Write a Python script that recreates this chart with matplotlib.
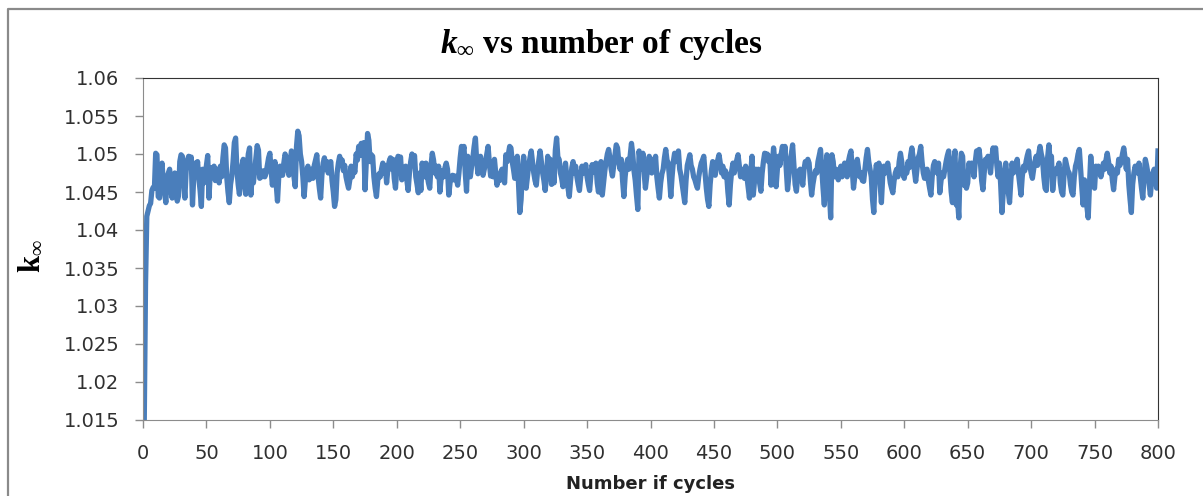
import numpy as np
import matplotlib
matplotlib.use('Agg')
import matplotlib.pyplot as plt
from matplotlib.lines import Line2D
from matplotlib.ticker import FuncFormatter

# k-infinity per cycle (cycles 1..800)
k_inf = [
    1.0150, 1.0330, 1.0418, 1.0425, 1.0432, 1.0435, 1.0452, 1.0456, 1.0455, 1.0501,
    1.0499, 1.0444, 1.0442, 1.0478, 1.0488, 1.0462, 1.0450, 1.0436, 1.0470, 1.0475,
    1.0480, 1.0452, 1.0442, 1.0468, 1.0475, 1.0455, 1.0438, 1.0445, 1.0490, 1.0499,
    1.0497, 1.0465, 1.0442, 1.0478, 1.0492, 1.0497, 1.0485, 1.0496, 1.0433, 1.0470,
    1.0488, 1.0475, 1.0490, 1.0468, 1.0452, 1.0431, 1.0480, 1.0462, 1.0470, 1.0485,
    1.0498, 1.0442, 1.0475, 1.0482, 1.0470, 1.0484, 1.0465, 1.0480, 1.0472, 1.0462,
    1.0484, 1.0470, 1.0495, 1.0512, 1.0508, 1.0470, 1.0450, 1.0436, 1.0460, 1.0471,
    1.0490, 1.0515, 1.0521, 1.0480, 1.0460, 1.0447, 1.0470, 1.0485, 1.0493, 1.0462,
    1.0447, 1.0480, 1.0500, 1.0508, 1.0446, 1.0470, 1.0462, 1.0478, 1.0495, 1.0511,
    1.0505, 1.0468, 1.0476, 1.0470, 1.0478, 1.0470, 1.0475, 1.0485, 1.0495, 1.0501,
    1.0478, 1.0459, 1.0480, 1.0490, 1.0460, 1.0438, 1.0470, 1.0484, 1.0478, 1.0472,
    1.0488, 1.0500, 1.0495, 1.0480, 1.0472, 1.0490, 1.0504, 1.0498, 1.0470, 1.0457,
    1.0510, 1.0530, 1.0524, 1.0500, 1.0490, 1.0470, 1.0444, 1.0466, 1.0478, 1.0484,
    1.0466, 1.0475, 1.0480, 1.0468, 1.0485, 1.0492, 1.0499, 1.0470, 1.0455, 1.0442,
    1.0472, 1.0488, 1.0495, 1.0480, 1.0490, 1.0475, 1.0486, 1.0490, 1.0465, 1.0450,
    1.0431, 1.0440, 1.0475, 1.0488, 1.0497, 1.0485, 1.0492, 1.0478, 1.0485, 1.0470,
    1.0462, 1.0455, 1.0466, 1.0484, 1.0470, 1.0482, 1.0476, 1.0500, 1.0492, 1.0510,
    1.0498, 1.0514, 1.0505, 1.0515, 1.0453, 1.0490, 1.0527, 1.0518, 1.0490, 1.0499,
    1.0497, 1.0470, 1.0455, 1.0444, 1.0465, 1.0474, 1.0470, 1.0480, 1.0488, 1.0475,
    1.0485, 1.0462, 1.0480, 1.0490, 1.0495, 1.0480, 1.0493, 1.0468, 1.0455, 1.0480,
    1.0497, 1.0490, 1.0496, 1.0466, 1.0475, 1.0470, 1.0484, 1.0465, 1.0452, 1.0475,
    1.0490, 1.0500, 1.0488, 1.0498, 1.0470, 1.0460, 1.0449, 1.0475, 1.0452, 1.0488,
    1.0478, 1.0470, 1.0488, 1.0472, 1.0462, 1.0455, 1.0485, 1.0501, 1.0492, 1.0475,
    1.0484, 1.0470, 1.0484, 1.0450, 1.0468, 1.0478, 1.0470, 1.0482, 1.0488, 1.0480,
    1.0446, 1.0462, 1.0470, 1.0472, 1.0466, 1.0471, 1.0468, 1.0459, 1.0475, 1.0495,
    1.0510, 1.0502, 1.0510, 1.0475, 1.0451, 1.0497, 1.0480, 1.0470, 1.0484, 1.0495,
    1.0510, 1.0521, 1.0490, 1.0474, 1.0485, 1.0497, 1.0485, 1.0472, 1.0480, 1.0490,
    1.0500, 1.0510, 1.0488, 1.0471, 1.0480, 1.0470, 1.0493, 1.0475, 1.0459, 1.0470,
    1.0465, 1.0476, 1.0480, 1.0470, 1.0462, 1.0499, 1.0490, 1.0500, 1.0510, 1.0508,
    1.0490, 1.0480, 1.0468, 1.0480, 1.0497, 1.0460, 1.0423, 1.0440, 1.0478, 1.0497,
    1.0480, 1.0455, 1.0470, 1.0485, 1.0495, 1.0504, 1.0490, 1.0475, 1.0465, 1.0459,
    1.0478, 1.0492, 1.0504, 1.0490, 1.0475, 1.0465, 1.0452, 1.0470, 1.0497, 1.0470,
    1.0493, 1.0460, 1.0480, 1.0462, 1.0505, 1.0521, 1.0495, 1.0493, 1.0475, 1.0468,
    1.0457, 1.0475, 1.0488, 1.0470, 1.0455, 1.0444, 1.0465, 1.0482, 1.0490, 1.0475,
    1.0484, 1.0470, 1.0460, 1.0452, 1.0470, 1.0484, 1.0475, 1.0480, 1.0486, 1.0470,
    1.0460, 1.0452, 1.0472, 1.0486, 1.0476, 1.0482, 1.0488, 1.0462, 1.0450, 1.0475,
    1.0490, 1.0446, 1.0462, 1.0478, 1.0490, 1.0500, 1.0506, 1.0495, 1.0480, 1.0471,
    1.0485, 1.0500, 1.0512, 1.0508, 1.0490, 1.0480, 1.0493, 1.0465, 1.0444, 1.0470,
    1.0485, 1.0493, 1.0480, 1.0498, 1.0514, 1.0500, 1.0478, 1.0465, 1.0445, 1.0427,
    1.0504, 1.0490, 1.0480, 1.0501, 1.0475, 1.0455, 1.0470, 1.0485, 1.0497, 1.0480,
    1.0475, 1.0493, 1.0482, 1.0497, 1.0470, 1.0455, 1.0442, 1.0462, 1.0474, 1.0480,
    1.0495, 1.0506, 1.0492, 1.0488, 1.0468, 1.0444, 1.0470, 1.0490, 1.0501, 1.0490,
    1.0495, 1.0504, 1.0480, 1.0472, 1.0460, 1.0448, 1.0436, 1.0465, 1.0485, 1.0492,
    1.0499, 1.0485, 1.0480, 1.0470, 1.0466, 1.0460, 1.0455, 1.0470, 1.0480, 1.0488,
    1.0492, 1.0497, 1.0475, 1.0455, 1.0440, 1.0431, 1.0460, 1.0478, 1.0490, 1.0480,
    1.0472, 1.0486, 1.0492, 1.0499, 1.0488, 1.0475, 1.0484, 1.0470, 1.0478, 1.0474,
    1.0450, 1.0433, 1.0460, 1.0478, 1.0488, 1.0475, 1.0485, 1.0492, 1.0499, 1.0485,
    1.0470, 1.0480, 1.0475, 1.0468, 1.0484, 1.0470, 1.0455, 1.0442, 1.0475, 1.0497,
    1.0446, 1.0465, 1.0480, 1.0470, 1.0480, 1.0462, 1.0451, 1.0475, 1.0490, 1.0501,
    1.0495, 1.0500, 1.0490, 1.0497, 1.0459, 1.0485, 1.0508, 1.0490, 1.0457, 1.0480,
    1.0497, 1.0485, 1.0500, 1.0510, 1.0495, 1.0510, 1.0480, 1.0453, 1.0470, 1.0490,
    1.0500, 1.0512, 1.0485, 1.0460, 1.0451, 1.0470, 1.0478, 1.0480, 1.0470, 1.0459,
    1.0480, 1.0490, 1.0486, 1.0493, 1.0488, 1.0465, 1.0446, 1.0460, 1.0470, 1.0478,
    1.0475, 1.0490, 1.0498, 1.0506, 1.0480, 1.0455, 1.0433, 1.0470, 1.0499, 1.0485,
    1.0450, 1.0416, 1.0499, 1.0490, 1.0470, 1.0480, 1.0475, 1.0466, 1.0478, 1.0484,
    1.0470, 1.0480, 1.0488, 1.0485, 1.0470, 1.0490, 1.0498, 1.0504, 1.0480, 1.0455,
    1.0470, 1.0485, 1.0493, 1.0480, 1.0470, 1.0475, 1.0465, 1.0464, 1.0480, 1.0495,
    1.0506, 1.0490, 1.0480, 1.0470, 1.0440, 1.0423, 1.0470, 1.0486, 1.0475, 1.0488,
    1.0460, 1.0436, 1.0470, 1.0484, 1.0475, 1.0482, 1.0488, 1.0475, 1.0462, 1.0455,
    1.0449, 1.0465, 1.0475, 1.0480, 1.0470, 1.0490, 1.0501, 1.0490, 1.0475, 1.0468,
    1.0480, 1.0475, 1.0490, 1.0482, 1.0498, 1.0508, 1.0495, 1.0478, 1.0464, 1.0480,
    1.0495, 1.0500, 1.0510, 1.0490, 1.0475, 1.0468, 1.0476, 1.0480, 1.0465, 1.0455,
    1.0446, 1.0470, 1.0485, 1.0490, 1.0480, 1.0475, 1.0488, 1.0449, 1.0465, 1.0475,
    1.0470, 1.0480, 1.0490, 1.0498, 1.0504, 1.0475, 1.0450, 1.0436, 1.0490, 1.0504,
    1.0433, 1.0440, 1.0416, 1.0480, 1.0501, 1.0497, 1.0459, 1.0470, 1.0455, 1.0462,
    1.0488, 1.0480, 1.0488, 1.0484, 1.0470, 1.0490, 1.0504, 1.0495, 1.0506, 1.0490,
    1.0465, 1.0453, 1.0475, 1.0493, 1.0485, 1.0497, 1.0490, 1.0475, 1.0495, 1.0508,
    1.0500, 1.0508, 1.0485, 1.0470, 1.0488, 1.0460, 1.0423, 1.0450, 1.0475, 1.0488,
    1.0470, 1.0450, 1.0436, 1.0465, 1.0488, 1.0475, 1.0484, 1.0480, 1.0493, 1.0475,
    1.0460, 1.0446, 1.0470, 1.0484, 1.0478, 1.0490, 1.0498, 1.0504, 1.0485, 1.0475,
    1.0468, 1.0480, 1.0490, 1.0497, 1.0485, 1.0500, 1.0510, 1.0500, 1.0493, 1.0470,
    1.0455, 1.0452, 1.0495, 1.0512, 1.0490, 1.0497, 1.0452, 1.0470, 1.0480, 1.0475,
    1.0482, 1.0488, 1.0462, 1.0450, 1.0446, 1.0475, 1.0493, 1.0485, 1.0478, 1.0475,
    1.0460, 1.0450, 1.0446, 1.0470, 1.0484, 1.0490, 1.0500, 1.0506, 1.0480, 1.0455,
    1.0433, 1.0466, 1.0450, 1.0430, 1.0416, 1.0460, 1.0497, 1.0475, 1.0460, 1.0455,
    1.0484, 1.0475, 1.0484, 1.0480, 1.0470, 1.0478, 1.0488, 1.0480, 1.0492, 1.0501,
    1.0490, 1.0475, 1.0484, 1.0466, 1.0453, 1.0470, 1.0480, 1.0475, 1.0493, 1.0485,
    1.0490, 1.0500, 1.0508, 1.0495, 1.0480, 1.0493, 1.0460, 1.0440, 1.0423, 1.0460,
    1.0475, 1.0484, 1.0478, 1.0475, 1.0488, 1.0470, 1.0455, 1.0442, 1.0470, 1.0493,
    1.0485, 1.0475, 1.0460, 1.0446, 1.0465, 1.0475, 1.0480, 1.0470, 1.0455, 1.0504,
]
cycles = np.arange(1, len(k_inf) + 1)

x_ticks = list(range(0, 801, 50))
y_ticks = [1.015, 1.02, 1.025, 1.03, 1.035, 1.04, 1.045, 1.05, 1.055, 1.06]

plt.rcParams['mathtext.fontset'] = 'custom'
plt.rcParams['mathtext.rm'] = 'Liberation Serif:bold'
plt.rcParams['mathtext.it'] = 'Liberation Serif:italic:bold'
plt.rcParams['mathtext.bf'] = 'Liberation Serif:bold'

fig = plt.figure(figsize=(12.03, 4.96), dpi=100)
ax = fig.add_axes([143 / 1203, 1 - 420 / 496, (1158 - 143) / 1203, (420 - 78) / 496])

ax.plot(cycles, k_inf, color='#4a7ebb', lw=3.8, solid_joinstyle='round')

ax.set_xlim(0, 800)
ax.set_ylim(1.015, 1.06)
ax.set_xticks(x_ticks)
ax.set_yticks(y_ticks)
ax.yaxis.set_major_formatter(FuncFormatter(lambda v, p: ('%.3f' % v).rstrip('0')))

for lab in ax.get_xticklabels() + ax.get_yticklabels():
    lab.set_fontfamily('DejaVu Sans')
    lab.set_fontsize(14)
    lab.set_color('#303030')
ax.tick_params(direction='out', length=6, width=1, color='#8c8c8c', pad=11)

ax.spines['left'].set_color('#8c8c8c')
ax.spines['bottom'].set_color('#8c8c8c')
ax.spines['top'].set_color('#333333')
ax.spines['right'].set_color('#333333')

fig.text(0.500, 1 - 44 / 496, r'$k_{\infty}$ vs number of cycles', ha='center', va='center',
         fontfamily='Liberation Serif', fontweight='bold', fontsize=24)
fig.text(31 / 1203, 1 - 256 / 496, r'k$_{\infty}$', ha='center', va='center', rotation=90,
         fontfamily='Liberation Serif', fontweight='bold', fontsize=22)
fig.text(651 / 1203, 1 - 484 / 496, 'Number if cycles', ha='center', va='center',
         fontfamily='DejaVu Sans', fontweight='bold', fontsize=13, color='#222222')

# outer chart border (top and left only are visible)
fig.add_artist(Line2D([8 / 1203, 8 / 1203, 1.0], [0.0, 1 - 9 / 496, 1 - 9 / 496],
                      transform=fig.transFigure, color='#8a8a8a', lw=1.6))

fig.savefig('out.png', dpi=100)
